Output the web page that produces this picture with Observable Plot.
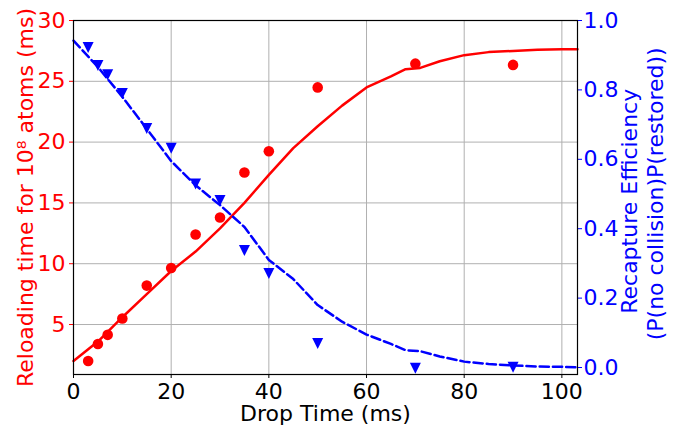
<!DOCTYPE html>
<html><head><meta charset="utf-8">
<script src="https://cdn.jsdelivr.net/npm/d3@7"></script>
<script src="https://cdn.jsdelivr.net/npm/@observablehq/plot@0.6"></script>
<style>body{margin:0;background:#fff} svg{display:block}</style>
</head><body><div id="chart"></div>
<script>
// measured data
const dropTimes   = [3, 5, 7, 10, 15, 20, 25, 30, 35, 40, 50, 70, 90];
const reloadTimes = [2.0, 3.4, 4.15, 5.5, 8.2, 9.65, 12.4, 13.8, 17.5, 19.25, 24.5, 26.45, 26.35];
const recapture   = [0.922, 0.870, 0.844, 0.790, 0.689, 0.632, 0.529, 0.481, 0.337, 0.271, 0.069, -0.002, 0.001];

// model curves
const modelTimes     = [0, 5, 10, 15, 20, 25, 30, 35, 40, 45, 50, 55, 60, 65, 68, 71, 75, 80, 85, 90, 95, 100, 103.2];
const modelReload    = [2.0, 3.6, 5.6, 7.5, 9.4, 11.0, 12.9, 15.0, 17.3, 19.5, 21.3, 23.0, 24.5, 25.4, 26.0, 26.1, 26.65, 27.15, 27.4, 27.5, 27.6, 27.63, 27.64];
const modelRecapture = [0.942, 0.866, 0.78, 0.688, 0.595, 0.525, 0.468, 0.405, 0.31, 0.255, 0.18, 0.132, 0.095, 0.068, 0.05, 0.047, 0.032, 0.017, 0.01, 0.006, 0.003, 0.002, 0.001];

// axes
const xTicks = [0, 20, 40, 60, 80, 100];
const leftTicks = [5, 10, 15, 20, 25, 30];
const rightTicks = [0, 0.2, 0.4, 0.6, 0.8, 1.0];
const rightTickLabels = ["0.0", "0.2", "0.4", "0.6", "0.8", "1.0"];
const xDomain = [0, 103.2];
const leftDomain = [0.89, 30];
const rightDomain = [-0.0201, 1.0];

const toLeft = v => leftDomain[0] + (v - rightDomain[0]) / (rightDomain[1] - rightDomain[0]) * (leftDomain[1] - leftDomain[0]);

const RED = "#ff0000", BLUE = "#0000ff";
const FONT = 22;

const measured = dropTimes.map((t, i) => ({t, reload: reloadTimes[i], rec: toLeft(recapture[i])}));
const model = modelTimes.map((t, i) => ({t, reload: modelReload[i], rec: toLeft(modelRecapture[i])}));

const triangleDown = {
  draw(context, size) {
    const r = Math.sqrt(size / Math.PI);
    context.moveTo(-r, -r);
    context.lineTo(r, -r);
    context.lineTo(0, r);
    context.closePath();
  }
};

const chart = Plot.plot({
  width: 682,
  height: 429,
  marginLeft: 73,
  marginRight: 105,
  marginTop: 20,
  marginBottom: 55,
  style: {fontFamily: "DejaVu Sans", fontSize: FONT + "px", background: "#fff"},
  x: {domain: xDomain},
  y: {domain: leftDomain},
  marks: [
    Plot.gridX(xTicks, {stroke: "#b0b0b0", strokeOpacity: 1, strokeWidth: 1}),
    Plot.gridY(leftTicks, {stroke: "#b0b0b0", strokeOpacity: 1, strokeWidth: 1}),
    Plot.line(model, {x: "t", y: "reload", stroke: RED, strokeWidth: 2.5}),
    Plot.dot(measured, {x: "t", y: "reload", r: 5.3, fill: RED}),
    Plot.line(model, {x: "t", y: "rec", stroke: BLUE, strokeWidth: 2.5, strokeDasharray: "9.25,4"}),
    Plot.dot(measured, {x: "t", y: "rec", r: 5.5, fill: BLUE, symbol: triangleDown}),
    Plot.axisX({ticks: xTicks, tickSize: 4, tickPadding: 5, fontSize: FONT, color: "black", label: null}),
    Plot.axisY({ticks: leftTicks, anchor: "left", tickSize: 4, tickPadding: 4, fontSize: FONT, color: RED, label: null}),
    Plot.axisY({ticks: rightTicks.map(toLeft), anchor: "right", tickSize: 4, tickPadding: 2, fontSize: FONT, color: BLUE, label: null,
      tickFormat: (d, i) => rightTickLabels[i]}),
    Plot.frame({stroke: "black", strokeWidth: 1.2}),
    Plot.text(["Drop Time (ms)"], {frameAnchor: "bottom", lineAnchor: "bottom", textAnchor: "middle", dy: 46.5, fill: "black", fontSize: FONT}),
    Plot.text(["Reloading time for 10\u2078 atoms (ms)"], {frameAnchor: "left", rotate: -90, lineAnchor: "bottom", textAnchor: "middle", dx: -41, fill: RED, fontSize: FONT}),
    Plot.text(["Recapture Efficiency"], {frameAnchor: "right", rotate: -90, lineAnchor: "bottom", textAnchor: "middle", dx: 59.5, dy: 3.8, fill: BLUE, fontSize: FONT}),
    Plot.text(["(P(no collision)P(restored))"], {frameAnchor: "right", rotate: -90, lineAnchor: "bottom", textAnchor: "middle", dx: 85, dy: -3.7, fill: BLUE, fontSize: FONT})
  ]
});
document.getElementById("chart").appendChild(chart);
</script>
</body></html>
